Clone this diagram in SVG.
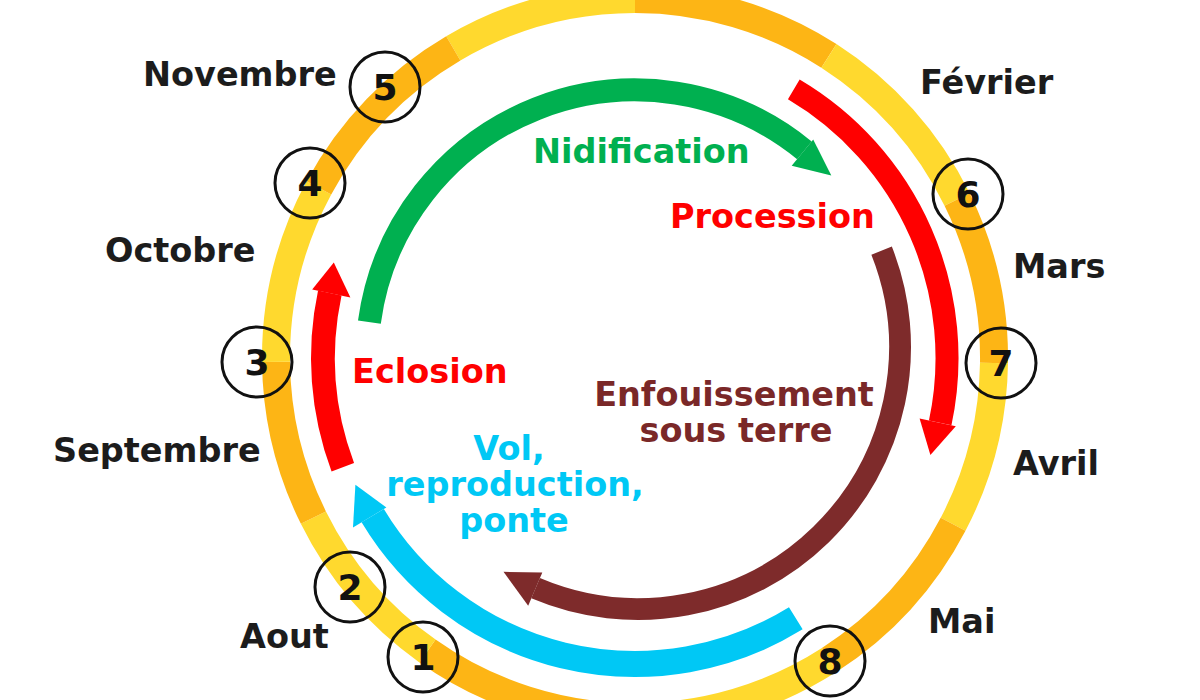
<svg xmlns="http://www.w3.org/2000/svg" width="1200" height="700" viewBox="0 0 1200 700">
  <style>
    text { font-family: "DejaVu Sans", "Verdana", sans-serif; font-weight: bold; }
    .month { font-size: 33.5px; fill: #1c1c1c; }
    .num { font-size: 36px; fill: #111111; text-anchor: middle; }
    .ring { fill: none; stroke-width: 28; }
    .y { stroke: #FFD92E; }
    .o { stroke: #FDB515; }
    .band { fill: none; }
    .badge { fill: none; stroke: #111111; stroke-width: 3; }
    .stage { font-size: 33.5px; }
  </style>
  <rect x="0" y="0" width="1200" height="700" fill="#ffffff"/>

  <g id="ring">
    <path class="ring y" d="M453.3 48.4 A359 359 0 0 1 635 -1"/>
    <path class="ring o" d="M635 -1 A359 359 0 0 1 828.9 55.9"/>
    <path class="ring y" d="M828.9 55.9 A359 359 0 0 1 957.1 199.5"/>
    <path class="ring o" d="M957.1 199.5 A359 359 0 0 1 994 363"/>
    <path class="ring y" d="M994 363 A359 359 0 0 1 953.1 524.3"/>
    <path class="ring o" d="M953.1 524.3 A359 359 0 0 1 829.5 659.8"/>
    <path class="ring y" d="M829.5 659.8 A359 359 0 0 1 635 717"/>
    <path class="ring o" d="M635 717 A359 359 0 0 1 427.5 651"/>
    <path class="ring y" d="M427.5 651 A359 359 0 0 1 313.4 517.6"/>
    <path class="ring o" d="M313.4 517.6 A359 359 0 0 1 276 361.8"/>
    <path class="ring y" d="M276 361.8 A359 359 0 0 1 318.9 187.8"/>
    <path class="ring o" d="M318.9 187.8 A359 359 0 0 1 453.3 48.4"/>
  </g>

  <g id="connectors">
    <g id="arrow-nidification">
      <path class="band" stroke="#00B050" stroke-width="23" d="M369.4 322.1 A268 268 0 0 1 804.4 150.3"/>
      <polygon fill="#00B050" points="813.2,139.5 831.3,175.6 791.7,165.8"/>
    </g>
    <g id="arrow-procession">
      <path class="band" stroke="#FF0000" stroke-width="23" d="M793.8 89.4 A312 312 0 0 1 940.2 422.9"/>
      <polygon fill="#FF0000" points="955.8,426.2 930.4,455.1 919.6,418.5"/>
    </g>
    <g id="arrow-enfouissement">
      <path class="band" stroke="#7E2B2B" stroke-width="22" d="M881.6 250.6 A262 262 0 0 1 535.6 588.2"/>
      <polygon fill="#7E2B2B" points="528.2,605.7 503.5,571.8 542.3,572.5"/>
    </g>
    <g id="arrow-vol">
      <path class="band" stroke="#00C8F5" stroke-width="26" d="M795.8 618.3 A306 306 0 0 1 372.7 515.6"/>
      <polygon fill="#00C8F5" points="353,527.4 355.4,484.8 386.4,507.4"/>
    </g>
    <g id="arrow-eclosion">
      <path class="band" stroke="#FF0000" stroke-width="24" d="M342.8 467.3 A312 312 0 0 1 329.8 293.1"/>
      <polygon fill="#FF0000" points="312.2,289.4 333.8,262.5 350.4,297.5"/>
    </g>
  </g>

  <g id="node-1"><circle class="badge" cx="423" cy="657" r="35"/><text class="num" x="423" y="670">1</text></g>
  <g id="node-2"><circle class="badge" cx="350" cy="587" r="35"/><text class="num" x="350" y="600">2</text></g>
  <g id="node-3"><circle class="badge" cx="257" cy="362" r="35"/><text class="num" x="257" y="375">3</text></g>
  <g id="node-4"><circle class="badge" cx="310" cy="183" r="35"/><text class="num" x="310" y="196">4</text></g>
  <g id="node-5"><circle class="badge" cx="385" cy="87" r="35"/><text class="num" x="385" y="100">5</text></g>
  <g id="node-6"><circle class="badge" cx="968" cy="194" r="35"/><text class="num" x="968" y="207">6</text></g>
  <g id="node-7"><circle class="badge" cx="1001" cy="363" r="35"/><text class="num" x="1001" y="376">7</text></g>
  <g id="node-8"><circle class="badge" cx="830" cy="661" r="35"/><text class="num" x="830" y="674">8</text></g>

  <g id="months">
    <text class="month" x="143" y="86">Novembre</text>
    <text class="month" x="920" y="94">Février</text>
    <text class="month" x="105" y="262">Octobre</text>
    <text class="month" x="1013" y="278">Mars</text>
    <text class="month" x="53" y="462">Septembre</text>
    <text class="month" x="1013" y="475">Avril</text>
    <text class="month" x="240" y="648">Aout</text>
    <text class="month" x="928" y="633">Mai</text>
  </g>

  <g id="stage-nidification"><text class="stage" x="533" y="163" fill="#00B050">Nidification</text></g>
  <g id="stage-procession"><text class="stage" x="670" y="228" fill="#FF0000">Procession</text></g>
  <g id="stage-eclosion"><text class="stage" x="352" y="383" fill="#FF0000">Eclosion</text></g>
  <g id="stage-enfouissement" fill="#7A2828" text-anchor="middle">
    <text class="stage" x="734" y="406">Enfouissement</text>
    <text class="stage" x="736" y="442">sous terre</text>
  </g>
  <g id="stage-vol" fill="#00C8F5" text-anchor="middle">
    <text class="stage" x="509" y="460">Vol,</text>
    <text class="stage" x="515" y="496">reproduction,</text>
    <text class="stage" x="514" y="532">ponte</text>
  </g>
</svg>
